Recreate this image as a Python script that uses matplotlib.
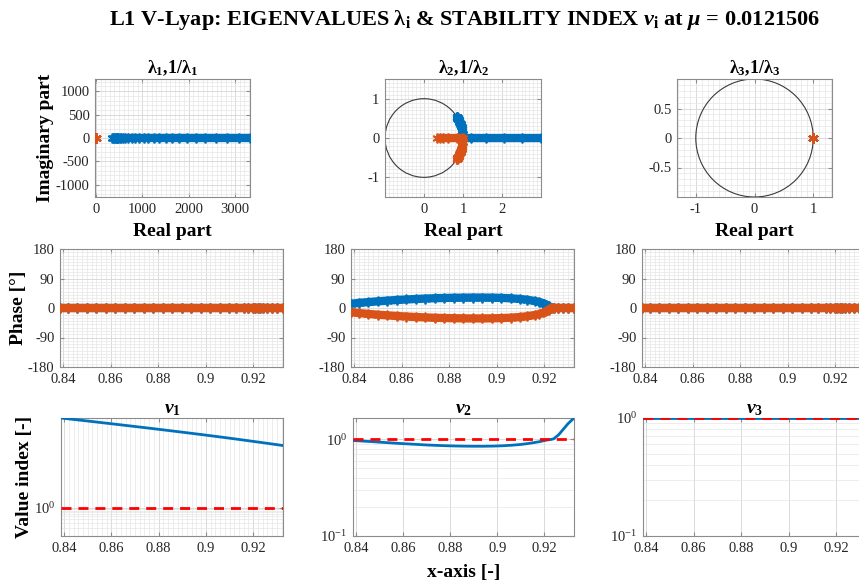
import numpy as np
import matplotlib
matplotlib.use('Agg')
import matplotlib.pyplot as plt
from matplotlib.patches import Circle
from matplotlib.ticker import MultipleLocator, FixedLocator, NullFormatter, FuncFormatter, LogFormatterSciNotation

# ---------------- data ----------------
x_param = [0.8387, 0.842, 0.846, 0.850, 0.854, 0.858, 0.862, 0.866, 0.870, 0.874,
           0.878, 0.882, 0.886, 0.890, 0.894, 0.898, 0.902, 0.906, 0.910, 0.913,
           0.916, 0.918, 0.920, 0.921, 0.922, 0.923, 0.924, 0.926, 0.928, 0.930, 0.9326]

# lambda_1 (real, unstable)
lam1 = [3311, 3076, 2818, 2582, 2360, 2158, 1972, 1799, 1644, 1500,
        1368, 1245, 1132, 1030, 935, 849, 769, 695, 628, 581,
        537, 509, 483, 470, 458, 446, 434, 411, 389, 369, 343]

# lambda_2: modulus and phase [deg]
lam2_mod = [1, 1, 1, 1, 1, 1, 1, 1, 1, 1,
            1, 1, 1, 1, 1, 1, 1, 1, 1, 1,
            1, 1, 1, 1, 1, 1, 1.2, 1.6, 2.05, 2.5, 3.0]
lam2_phase = [13, 15.5, 18, 20.5, 22.5, 24.5, 26, 27.5, 28.8, 29.8,
              30.6, 31.2, 31.6, 31.8, 31.8, 31.5, 30.8, 29.5, 27.5, 25,
              21.5, 18.5, 13.5, 10, 6, 0, 0, 0, 0, 0, 0]

# lambda_3 (trivial pair, = 1)
lam3 = [1.0] * len(x_param)

stability_threshold = 1.0
mu = 0.0121506

# ---------------- style ----------------
plt.rcParams['font.family'] = ['Liberation Serif', 'DejaVu Serif']
plt.rcParams['mathtext.fontset'] = 'custom'
plt.rcParams['mathtext.rm'] = 'Liberation Serif:bold'
plt.rcParams['mathtext.bf'] = 'Liberation Serif:bold'
plt.rcParams['mathtext.it'] = 'Liberation Serif:italic:bold'
plt.rcParams['axes.unicode_minus'] = False

BLUE = '#0072BD'
ORANGE = '#D95319'
SPINE = '#8c8c8c'
TXT = '#262626'
TICKFS = 10.5
LABFS = 14
ASTER = (6, 2, 0)

W, H = 859, 583
fig = plt.figure(figsize=(W / 100, H / 100), dpi=100)


def px_axes(l, r, t, b):
    return fig.add_axes([l / W, 1 - b / H, (r - l) / W, (b - t) / H])


def style(ax, xminor=None, yminor=None, xgrid_minor=True, ygrid_minor=True):
    for s in ax.spines.values():
        s.set_color(SPINE)
        s.set_linewidth(0.8)
    ax.tick_params(which='both', direction='in', top=True, right=True,
                   colors=SPINE, labelcolor=TXT, labelsize=TICKFS, length=3, pad=4)
    ax.tick_params(which='minor', length=0)
    if xminor is not None:
        ax.xaxis.set_minor_locator(xminor)
    if yminor is not None:
        ax.yaxis.set_minor_locator(yminor)
    ax.set_axisbelow(True)
    ax.grid(True, which='major', color='#d4d4d4', lw=0.6)
    if xgrid_minor:
        ax.grid(True, which='minor', axis='x', color='#e6e6e6', lw=0.5)
    if ygrid_minor:
        ax.grid(True, which='minor', axis='y', color='#e6e6e6', lw=0.5)


def band(ax, xs, ys, color, z):
    ax.plot(xs, ys, '-', color=color, lw=6, zorder=z, solid_capstyle='butt')
    ax.plot(xs, ys, ls='none', marker=ASTER, ms=7, mew=1.3, mec=color, mfc=color, zorder=z)


gfmt = FuncFormatter(lambda v, p: ('%g' % v))

lam_list = [np.array(lam1, dtype=complex),
            np.array(lam2_mod) * np.exp(1j * np.deg2rad(lam2_phase)),
            np.array(lam3, dtype=complex)]

# ---------------- top row : complex plane ----------------
top_pos = [(95, 250), (385, 541), (677, 832)]
top_lims = [((-20, 3320), (-1260, 1260)), ((-1, 3), (-1.5, 1.5)), ((-1.32, 1.32), (-1, 1))]
top_xt = [[0, 1000, 2000, 3000], [0, 1, 2], [-1, 0, 1]]
top_yt = [[-1000, -500, 0, 500, 1000], [-1, 0, 1], [-0.5, 0, 0.5]]
top_xminor = [100, 0.1, 0.1]
top_yminor = [100, 0.1, 0.1]
for k in range(3):
    l, r = top_pos[k]
    ax = px_axes(l, r, 79, 197)
    lam = lam_list[k]
    inv = 1 / lam
    circ = Circle((0, 0), 1, fill=False, ec='#3a3a3a', lw=0.8, zorder=2)
    ax.add_patch(circ)
    band(ax, lam.real, lam.imag, BLUE, 3)
    if k == 0 or k == 2:
        ax.plot(inv.real, inv.imag, ls='none', marker=ASTER, ms=7, mew=1.2,
                mec=ORANGE, mfc=ORANGE, zorder=4)
    else:
        band(ax, inv.real, inv.imag, ORANGE, 4)
    ax.set_xlim(*top_lims[k][0])
    ax.set_ylim(*top_lims[k][1])
    ax.set_xticks(top_xt[k])
    ax.set_yticks(top_yt[k])
    ax.xaxis.set_major_formatter(gfmt)
    ax.yaxis.set_major_formatter(gfmt)
    style(ax, MultipleLocator(top_xminor[k]), MultipleLocator(top_yminor[k]))
    ax.set_title(r'$\mathrm{\lambda_{%d}{,}1/\lambda_{%d}}$' % (k + 1, k + 1),
                 fontsize=13, pad=4, color='black')
    fig.text((l + r) / 2 / W, 1 - 231 / H, 'Real part', ha='center', va='center',
             fontsize=LABFS, fontweight='bold')
fig.text(45 / W, 1 - 138 / H, 'Imaginary part', rotation=90, ha='center', va='center',
         fontsize=LABFS, fontweight='bold')

# ---------------- middle row : phase ----------------
mid_pos = [(60, 283), (351, 574), (642, 865)]
xlim_param = (0.8387, 0.9326)
xt = [0.84, 0.86, 0.88, 0.9, 0.92]
for k in range(3):
    l, r = mid_pos[k]
    ax = px_axes(l, r, 249, 367)
    lam = lam_list[k]
    ph = np.rad2deg(np.angle(lam))
    ph_inv = np.rad2deg(np.angle(1 / lam))
    band(ax, x_param, ph, BLUE, 3)
    band(ax, x_param, ph_inv, ORANGE, 4)
    ax.set_xlim(*xlim_param)
    ax.set_ylim(-180, 180)
    ax.set_xticks(xt)
    ax.set_yticks([-180, -90, 0, 90, 180])
    ax.xaxis.set_major_formatter(gfmt)
    ax.yaxis.set_major_formatter(gfmt)
    style(ax, MultipleLocator(0.002), MultipleLocator(10))
fig.text(18 / W, 1 - 308 / H, 'Phase [°]', rotation=90, ha='center', va='center',
         fontsize=LABFS, fontweight='bold')

# ---------------- bottom row : stability index ----------------
bot_pos = [(61, 283), (353, 574), (643, 866)]
for k in range(3):
    l, r = bot_pos[k]
    ax = px_axes(l, r, 418, 536)
    lam = lam_list[k]
    nu = np.abs(0.5 * (lam + 1 / lam).real)
    ax.set_yscale('log')
    ax.plot(x_param, nu, '-', color=BLUE, lw=2, zorder=3)
    ax.axhline(stability_threshold, color='red', lw=2, ls=(0, (3.6, 2.5)), zorder=4)
    ax.set_xlim(*xlim_param)
    ax.set_ylim(0.1, nu.max())
    if k == 0:
        ax.yaxis.set_major_locator(FixedLocator([1.0]))
    else:
        ax.yaxis.set_major_locator(FixedLocator([0.1, 1.0]))
    ax.yaxis.set_major_formatter(LogFormatterSciNotation())
    ax.yaxis.set_minor_locator(FixedLocator([0.2, 0.3, 0.4, 0.5, 0.6, 0.7, 0.8, 0.9]))
    ax.yaxis.set_minor_formatter(NullFormatter())
    ax.set_xticks(xt)
    ax.xaxis.set_major_formatter(gfmt)
    style(ax, MultipleLocator(0.002) if k == 0 else None, None,
          xgrid_minor=(k == 0), ygrid_minor=True)
    ax.set_title(r'$\nu_{\mathrm{%d}}$' % (k + 1), fontsize=14, pad=3, color='black')
fig.text(25 / W, 1 - 477 / H, 'Value index [-]', rotation=90, ha='center', va='center',
         fontsize=LABFS, fontweight='bold')
fig.text(464 / W, 1 - 573 / H, 'x-axis [-]', ha='center', va='center',
         fontsize=LABFS, fontweight='bold')

# ---------------- super title ----------------
fig.text(465 / W, 1 - 20 / H,
         r'L1 V-Lyap: EIGENVALUES $\mathrm{\lambda_i}$ & STABILITY INDEX $\nu_{\mathrm{i}}$ at $\mu$ = %s' % mu,
         ha='center', va='center', fontsize=16, fontweight='bold')

fig.savefig('out.png', dpi=100)
